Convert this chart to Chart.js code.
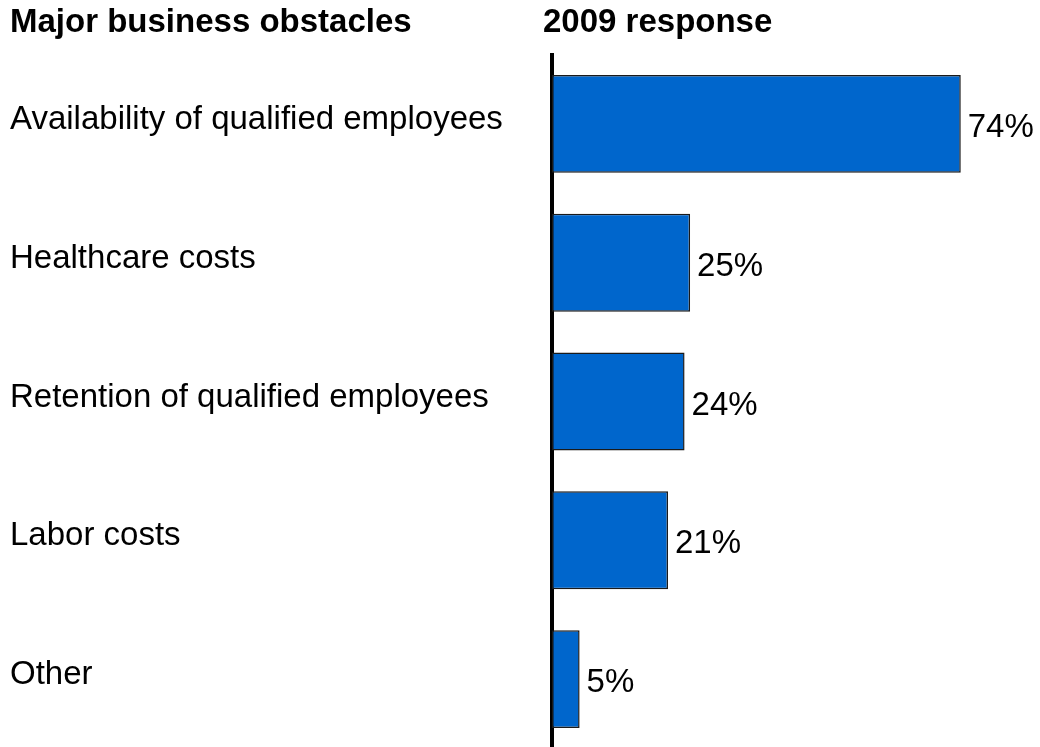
<!DOCTYPE html>
<html>
<head>
<meta charset="utf-8">
<script src="https://cdn.jsdelivr.net/npm/chart.js@4"></script>
<style>
  html, body { margin: 0; padding: 0; background: #fff; overflow: hidden; }
  #wrap { position: relative; width: 1040px; height: 749px; }
</style>
</head>
<body>
<div id="wrap"><canvas id="chart"></canvas></div>
<script>
const obstacles = [
  "Availability of qualified employees",
  "Healthcare costs",
  "Retention of qualified employees",
  "Labor costs",
  "Other"
];
const response2009 = [74, 25, 24, 21, 5];
const headers = ["Major business obstacles", "2009 response"];

const FONT = "'Liberation Sans', Arial, sans-serif";

// headers, category names and value labels drawn on the canvas
const labelsPlugin = {
  id: "labels",
  afterDatasetsDraw(chart) {
    const ctx = chart.ctx;
    const y = chart.scales.y;
    const area = chart.chartArea;
    ctx.save();
    ctx.fillStyle = "#000";
    ctx.textBaseline = "alphabetic";
    ctx.textAlign = "left";

    ctx.font = "bold 33px " + FONT;
    ctx.fillText(headers[0], 10, 32);
    ctx.fillText(headers[1], area.left - 9, 32);

    ctx.font = "33px " + FONT;
    obstacles.forEach((name, i) => {
      ctx.fillText(name, 10, y.getPixelForValue(i) + 5);
    });

    chart.getDatasetMeta(0).data.forEach((bar, i) => {
      ctx.fillText(response2009[i] + "%", bar.x + 7, bar.y + 13);
    });
    ctx.restore();
  }
};

new Chart(document.getElementById("chart"), {
  type: "bar",
  data: {
    labels: obstacles,
    datasets: [{
      data: response2009,
      backgroundColor: "#0066CC",
      borderColor: "#1a1a1a",
      borderWidth: 1.5,
      borderSkipped: false,
      categoryPercentage: 1,
      barPercentage: 0.705
    }]
  },
  options: {
    indexAxis: "y",
    responsive: true,
    maintainAspectRatio: false,
    animation: false,
    layout: { padding: { top: 54.5, right: 3, bottom: 0.5, left: 0 } },
    plugins: {
      legend: { display: false },
      tooltip: { enabled: false }
    },
    scales: {
      x: {
        display: false,
        min: 0,
        max: 87.8
      },
      y: {
        grid: { display: false },
        ticks: { display: false },
        border: { display: true, color: "#000", width: 4 },
        afterFit(scale) { scale.width = 552; }
      }
    }
  },
  plugins: [labelsPlugin]
});
</script>
</body>
</html>
